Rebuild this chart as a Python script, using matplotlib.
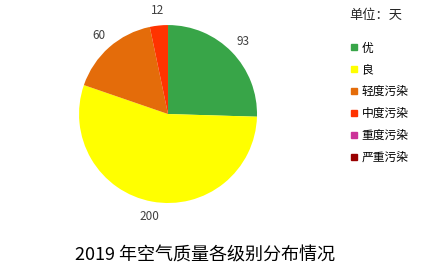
import matplotlib
matplotlib.use("Agg")
import matplotlib.pyplot as plt
from matplotlib.lines import Line2D

plt.rcParams['font.family'] = ['Noto Sans CJK SC', 'DejaVu Sans']

categories = ["优", "良", "轻度污染", "中度污染", "重度污染", "严重污染"]
days = [93, 200, 60, 12, 0, 0]
colors = ["#38A548", "#FFFF00", "#E46C0A", "#FF3300", "#CC3399", "#990000"]
title = "2019 年空气质量各级别分布情况"
unit = "单位：天"


def main():
    fig = plt.figure(figsize=(4.24, 2.68), dpi=100)
    ax = fig.add_axes([0.1863, 0.2425, 0.42, 0.664])

    labels = [str(v) if v > 0 else "" for v in days]
    wedges, texts = ax.pie(days, labels=labels, colors=colors, startangle=90,
                           counterclock=False, labeldistance=1.17,
                           textprops={"fontsize": 8.5, "color": "#404040"})
    for t in texts:
        t.set_ha("center")
        t.set_va("center")
    ax.set_xlim(-1, 1)
    ax.set_ylim(-1, 1)
    ax.set_aspect("equal")

    handles = [Line2D([0], [0], marker="s", color="none", markerfacecolor=c,
                      markeredgecolor=c, markersize=5) for c in colors]
    fig.legend(handles, categories, loc="upper left", bbox_to_anchor=(0.825, 0.845),
               frameon=False, fontsize=8.5, handlelength=0.7, handletextpad=0.3,
               labelspacing=0.75, borderpad=0, borderaxespad=0)

    fig.text(0.887, 0.942, unit, ha="center", va="center", fontsize=9.5, color="#262626")
    fig.text(0.483, 0.045, title, ha="center", va="center", fontsize=13, color="black")

    fig.savefig("out.png", dpi=100)


if __name__ == '__main__':
    main()
